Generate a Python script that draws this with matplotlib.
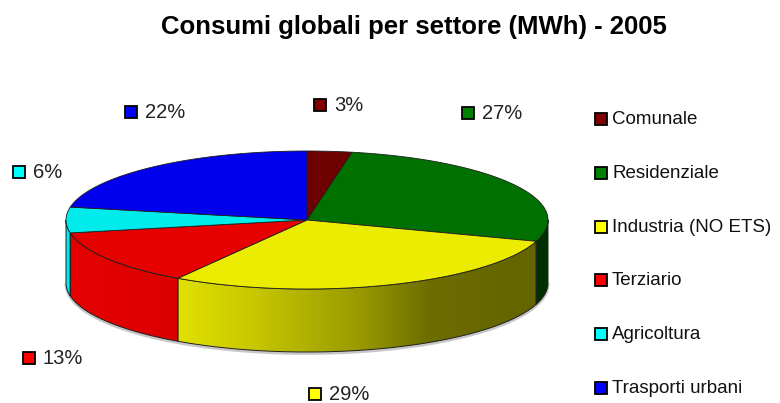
import numpy as np
import matplotlib.pyplot as plt
from matplotlib.patches import Polygon, Rectangle
from matplotlib.colors import to_rgb

plt.rcParams['font.family'] = ['Liberation Sans', 'DejaVu Sans']

title = "Consumi globali per settore (MWh) - 2005"
sectors = ["Comunale", "Residenziale", "Industria (NO ETS)", "Terziario",
           "Agricoltura", "Trasporti urbani"]
shares = [3, 27, 29, 13, 6, 22]
top_colors = ["#6e0000", "#007000", "#ecec00", "#e60000", "#00ecec", "#0000ec"]
key_colors = ["#800000", "#008000", "#ffff00", "#ff0000", "#00ffff", "#0000ff"]
# where each percentage label sits (pixel coords of its colour key)
label_xy = [(320, 105), (468, 113), (315, 394), (29, 358), (19, 172), (131, 112)]

# pie geometry in pixels
cx, cy, rx, ry, depth = 307, 220, 241, 69, 63

fig = plt.figure(figsize=(7.8, 4.03), dpi=100)
ax = fig.add_axes([0, 0, 1, 1])
ax.set_xlim(0, 780)
ax.set_ylim(403, 0)
ax.axis('off')


def rim(t):
    return cx + rx * np.cos(t), cy - ry * np.sin(t)


def shade(x):
    # side walls get darker towards the right
    return np.interp(x, [cx - rx, 180, 250, 360, 430, cx + rx],
                     [1.0, 0.95, 0.85, 0.65, 0.46, 0.42])


total = sum(shares)
bounds = 90 - 360 * np.concatenate([[0], np.cumsum(shares)]) / total

# soft shadow under the front rim
ts = np.radians(np.linspace(-180, 0, 200))
sx, sy = rim(ts)
ax.plot(sx, sy + depth + 1.5, color='#b0b0b0', lw=2, alpha=0.7, zorder=1)

# front walls, filled with a horizontal gradient clipped to the wall outline
gx = np.linspace(cx - rx, cx + rx, 400)
for i in range(len(shares)):
    lo = max(bounds[i + 1], -180)
    hi = min(bounds[i], 0)
    if lo >= hi:
        continue
    ts = np.radians(np.linspace(hi, lo, 120))
    xs, ys = rim(ts)
    outline = np.column_stack([np.r_[xs, xs[::-1]], np.r_[ys, ys[::-1] + depth]])
    wall = Polygon(outline, closed=True, fill=False, ec='#1e1e1e', lw=0.7,
                   zorder=3)
    base = np.array(to_rgb(top_colors[i]))
    grad = (shade(gx)[:, None] * base[None, :])[None, :, :]
    img = ax.imshow(grad, extent=(gx[0], gx[-1], cy + ry + depth + 2, cy - 2),
                    aspect='auto', interpolation='bilinear', zorder=2)
    ax.add_patch(wall)
    img.set_clip_path(wall)

# top face
for i in range(len(shares)):
    ts = np.radians(np.linspace(bounds[i], bounds[i + 1], 120))
    xs, ys = rim(ts)
    pts = np.column_stack([np.r_[cx, xs], np.r_[cy, ys]])
    ax.add_patch(Polygon(pts, closed=True, fc=top_colors[i], ec='#1e1e1e',
                         lw=0.6, zorder=4))

ax.set_xlim(0, 780)
ax.set_ylim(403, 0)

# percentage labels with colour keys
for (lx, ly), v, col in zip(label_xy, shares, key_colors):
    ax.add_patch(Rectangle((lx - 6, ly - 6), 12, 12, fc=col, ec='black',
                           lw=1.3, zorder=5))
    ax.text(lx + 14, ly + 0.5, f"{v}%", fontsize=14.5, color='#222222',
            ha='left', va='center', zorder=5)

# legend
for i, (name, col) in enumerate(zip(sectors, key_colors)):
    y = 119 + i * 53.8
    ax.add_patch(Rectangle((595, y - 6), 12, 12, fc=col, ec='black',
                           lw=1.3, zorder=5))
    ax.text(612, y + 0.5, name, fontsize=13.5, color='#111111',
            ha='left', va='center', zorder=5)

ax.text(414, 34, title, fontsize=18.5, fontweight='bold',
        ha='center', va='baseline', color='black')

fig.savefig('out.png', dpi=100)
